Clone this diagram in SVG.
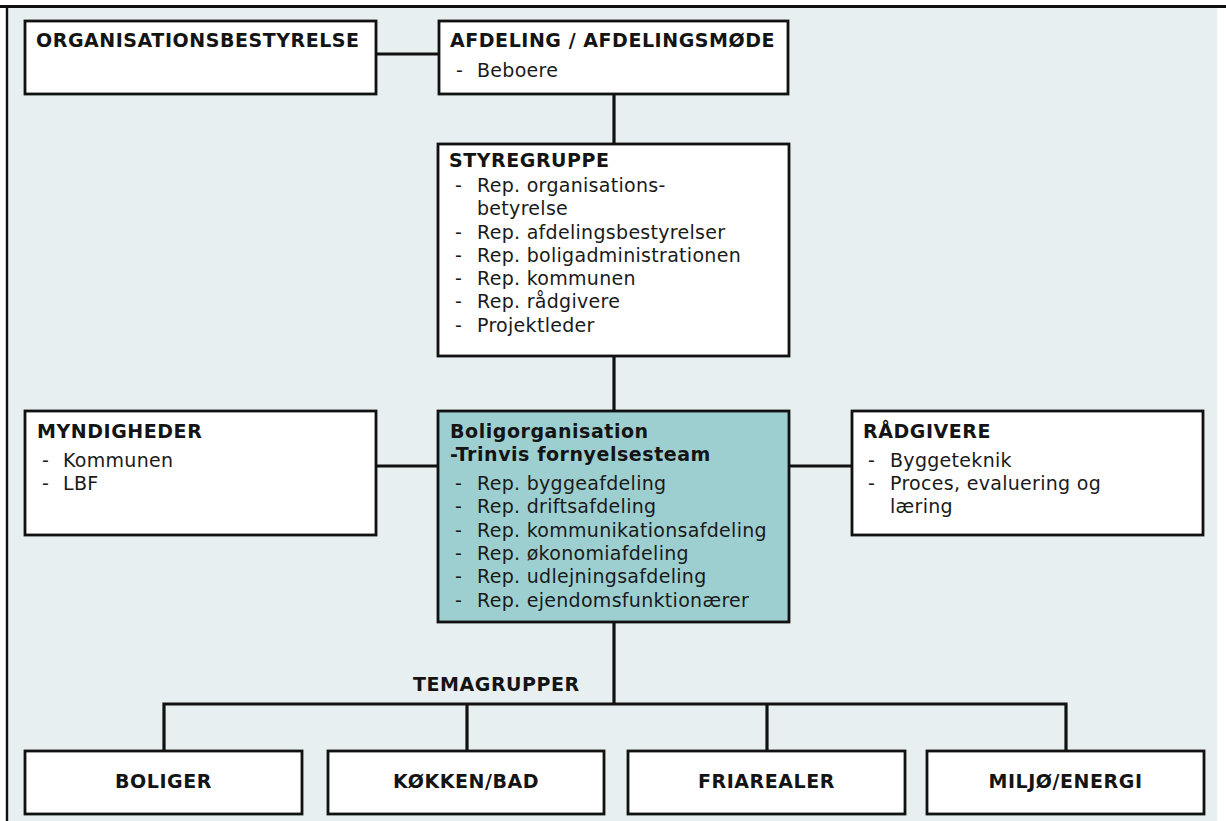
<svg xmlns="http://www.w3.org/2000/svg" width="1226" height="821" viewBox="0 0 1226 821">
  <style>
    .box { fill: #ffffff; stroke: #111111; stroke-width: 2.8; }
    .core { fill: #9dcfd1; stroke: #111111; stroke-width: 2.8; }
    .link { fill: none; stroke: #111111; stroke-width: 3.2; stroke-linejoin: miter; }
    .h { font-family: "DejaVu Sans", Verdana, sans-serif; font-weight: bold; font-size: 19px; letter-spacing: 0.55px; fill: #141414; }
    .t { font-family: "DejaVu Sans", Verdana, sans-serif; font-size: 19px; letter-spacing: 0.3px; fill: #1a1a1a; }
    .c { text-anchor: middle; }
  </style>

  <!-- page background and frame -->
  <rect x="0" y="0" width="1226" height="821" fill="#ffffff"/>
  <rect x="7" y="6" width="1210" height="815" fill="#e7eff0"/>
  <line x1="0" y1="6.5" x2="1226" y2="6.5" stroke="#111111" stroke-width="3"/>
  <line x1="7" y1="6" x2="7" y2="821" stroke="#111111" stroke-width="2.4"/>

  <!-- connectors -->
  <g id="connectors">
    <line class="link" x1="376" y1="54" x2="439" y2="54"/>
    <line class="link" x1="614" y1="94" x2="614" y2="144"/>
    <line class="link" x1="614" y1="356" x2="614" y2="411"/>
    <line class="link" x1="376" y1="466" x2="438" y2="466"/>
    <line class="link" x1="789" y1="466" x2="852" y2="466"/>
    <line class="link" x1="614" y1="622" x2="614" y2="704"/>
    <polyline class="link" points="164,751 164,704 1066,704 1066,751"/>
    <line class="link" x1="467" y1="704" x2="467" y2="751"/>
    <line class="link" x1="767" y1="704" x2="767" y2="751"/>
  </g>

  <g id="organisationsbestyrelse">
    <rect class="box" x="25" y="21" width="351" height="73"/>
    <text class="h" x="36" y="47">ORGANISATIONSBESTYRELSE</text>
  </g>

  <g id="afdeling">
    <rect class="box" x="439" y="21" width="349" height="73"/>
    <text class="h" x="450" y="47">AFDELING / AFDELINGSMØDE</text>
    <text class="t" x="456" y="77">-</text>
    <text class="t" x="477" y="77">Beboere</text>
  </g>

  <g id="styregruppe">
    <rect class="box" x="438" y="144" width="351" height="212"/>
    <text class="h" x="449" y="167">STYREGRUPPE</text>
    <text class="t" x="455" y="192">-</text>
    <text class="t" x="477" y="192">Rep. organisations-</text>
    <text class="t" x="477" y="215">betyrelse</text>
    <text class="t" x="455" y="239">-</text>
    <text class="t" x="477" y="239">Rep. afdelingsbestyrelser</text>
    <text class="t" x="455" y="262">-</text>
    <text class="t" x="477" y="262">Rep. boligadministrationen</text>
    <text class="t" x="455" y="285">-</text>
    <text class="t" x="477" y="285">Rep. kommunen</text>
    <text class="t" x="455" y="308">-</text>
    <text class="t" x="477" y="308">Rep. rådgivere</text>
    <text class="t" x="455" y="332">-</text>
    <text class="t" x="477" y="332">Projektleder</text>
  </g>

  <g id="myndigheder">
    <rect class="box" x="25" y="411" width="351" height="124"/>
    <text class="h" x="37" y="438">MYNDIGHEDER</text>
    <text class="t" x="42" y="467">-</text>
    <text class="t" x="63" y="467">Kommunen</text>
    <text class="t" x="42" y="490">-</text>
    <text class="t" x="63" y="490">LBF</text>
  </g>

  <g id="boligorganisation">
    <rect class="core" x="438" y="411" width="351" height="211"/>
    <text class="h" x="450" y="438">Boligorganisation</text>
    <text class="h" x="450" y="461">-Trinvis fornyelsesteam</text>
    <text class="t" x="455" y="490">-</text>
    <text class="t" x="477" y="490">Rep. byggeafdeling</text>
    <text class="t" x="455" y="513">-</text>
    <text class="t" x="477" y="513">Rep. driftsafdeling</text>
    <text class="t" x="455" y="537">-</text>
    <text class="t" x="477" y="537">Rep. kommunikationsafdeling</text>
    <text class="t" x="455" y="560">-</text>
    <text class="t" x="477" y="560">Rep. økonomiafdeling</text>
    <text class="t" x="455" y="583">-</text>
    <text class="t" x="477" y="583">Rep. udlejningsafdeling</text>
    <text class="t" x="455" y="607">-</text>
    <text class="t" x="477" y="607">Rep. ejendomsfunktionærer</text>
  </g>

  <g id="raadgivere">
    <rect class="box" x="852" y="411" width="351" height="124"/>
    <text class="h" x="863" y="438">RÅDGIVERE</text>
    <text class="t" x="868" y="467">-</text>
    <text class="t" x="890" y="467">Byggeteknik</text>
    <text class="t" x="868" y="490">-</text>
    <text class="t" x="890" y="490">Proces, evaluering og</text>
    <text class="t" x="890" y="513">læring</text>
  </g>

  <g id="temagrupper-label">
    <text class="h" x="413" y="691">TEMAGRUPPER</text>
  </g>

  <g id="boliger">
    <rect class="box" x="25" y="751" width="277" height="63"/>
    <text class="h c" x="163.5" y="788">BOLIGER</text>
  </g>

  <g id="koekken-bad">
    <rect class="box" x="328" y="751" width="276" height="63"/>
    <text class="h c" x="466" y="788">KØKKEN/BAD</text>
  </g>

  <g id="friarealer">
    <rect class="box" x="628" y="751" width="277" height="63"/>
    <text class="h c" x="766.5" y="788">FRIAREALER</text>
  </g>

  <g id="miljoe-energi">
    <rect class="box" x="927" y="751" width="277" height="63"/>
    <text class="h c" x="1065.5" y="788">MILJØ/ENERGI</text>
  </g>
</svg>
